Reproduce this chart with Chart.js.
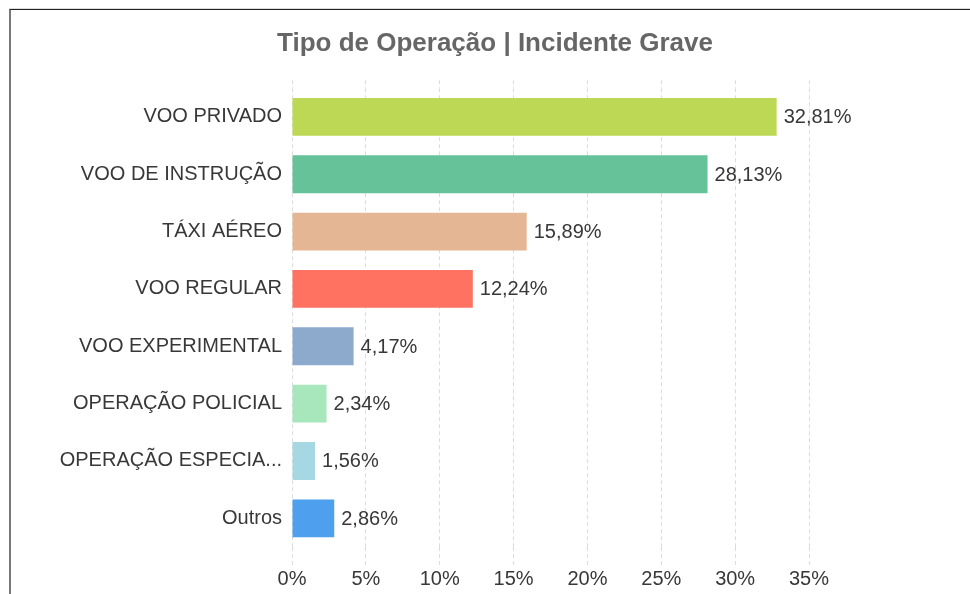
<!DOCTYPE html>
<html>
<head>
<meta charset="utf-8">
<script src="https://cdn.jsdelivr.net/npm/chart.js@4.4.0/dist/chart.umd.min.js"></script>
<style>
    html, body { margin: 0; padding: 0; background: #fff; overflow: hidden; width: 970px; height: 594px; }
    #frame {
        position: absolute; left: 9px; top: 9px; width: 980px; height: 600px;
        border-top: 1px solid #222; border-left: 2px solid #777;
        box-shadow: 0 -1px 0 #ddd;
    }
    #wrap { position: absolute; left: 11px; top: 11px; width: 968px; height: 583px; }
</style>
</head>
<body>
<div id="frame"></div>
<div id="wrap"><canvas id="chart"></canvas></div>
<script>
// dados do gráfico
const categorias = ['VOO PRIVADO', 'VOO DE INSTRUÇÃO', 'TÁXI AÉREO', 'VOO REGULAR', 'VOO EXPERIMENTAL', 'OPERAÇÃO POLICIAL', 'OPERAÇÃO ESPECIA...', 'Outros'];
const percentuais = [32.81, 28.13, 15.89, 12.24, 4.17, 2.34, 1.56, 2.86];
const cores = ['#BCD854', '#66C298', '#E4B694', '#FF7262', '#8DA9CB', '#A8E6BB', '#A6D8E3', '#4E9FEE'];
const ticksX = [0, 5, 10, 15, 20, 25, 30, 35];

const fonte = '"Liberation Sans", Arial, sans-serif';
const fmt = v => v.toFixed(2).replace('.', ',') + '%';

// rótulos de valor ao lado das barras
const rotulosBarras = {
    id: 'rotulosBarras',
    afterDatasetsDraw(chart) {
        const ctx = chart.ctx;
        const meta = chart.getDatasetMeta(0);
        ctx.save();
        ctx.font = '20px ' + fonte;
        ctx.fillStyle = '#383838';
        ctx.textAlign = 'left';
        ctx.textBaseline = 'middle';
        meta.data.forEach((bar, i) => {
            ctx.fillText(fmt(percentuais[i]), bar.x + 7, bar.y + 1);
        });
        ctx.restore();
    }
};

const gradeX = {
    color: '#dcdcdc',
    tickColor: '#dcdcdc',
    tickBorderDash: [4, 3],
    tickBorderDashOffset: 0
};

new Chart(document.getElementById('chart'), {
    type: 'bar',
    data: {
        labels: categorias,
        datasets: [{
            data: percentuais,
            backgroundColor: cores,
            borderWidth: 0,
            barPercentage: 0.66,
            categoryPercentage: 1
        }]
    },
    options: {
        indexAxis: 'y',
        responsive: true,
        maintainAspectRatio: false,
        animation: false,
        layout: { padding: { top: 0, left: 0, right: 0, bottom: 1 } },
        plugins: {
            legend: { display: false },
            tooltip: { enabled: false },
            title: {
                display: true,
                text: 'Tipo de Operação | Incidente Grave',
                color: '#666',
                font: { family: fonte, size: 26, weight: 'bold', lineHeight: 1.2 },
                padding: { top: 17, bottom: 21 }
            }
        },
        scales: {
            x: {
                position: 'bottom',
                min: 0,
                max: 35,
                afterBuildTicks: s => { s.ticks = ticksX.map(v => ({ value: v })); },
                ticks: {
                    callback: v => v + '%',
                    color: '#383838',
                    padding: 2,
                    maxRotation: 0,
                    font: { family: fonte, size: 20, lineHeight: 1.2 }
                },
                grid: Object.assign({ drawTicks: true, tickLength: 18 }, gradeX),
                border: { display: false, dash: [4, 3] }
            },
            xTopo: {
                position: 'top',
                axis: 'x',
                min: 0,
                max: 35,
                afterBuildTicks: s => { s.ticks = ticksX.map(v => ({ value: v })); },
                ticks: { display: false },
                grid: Object.assign({ drawOnChartArea: false, drawTicks: true, tickLength: 8 }, gradeX),
                border: { display: false }
            },
            y: {
                afterFit: s => { s.width = 281; },
                ticks: {
                    color: '#383838',
                    padding: 10,
                    font: { family: fonte, size: 20 }
                },
                grid: { display: false, drawTicks: false },
                border: { display: false }
            },
            // espaço vazio à direita para os rótulos
            yDireita: {
                type: 'category',
                position: 'right',
                axis: 'y',
                display: true,
                afterFit: s => { s.width = 170; },
                ticks: { display: false },
                grid: { display: false, drawTicks: false },
                border: { display: false }
            }
        }
    },
    plugins: [rotulosBarras]
});
</script>
</body>
</html>
